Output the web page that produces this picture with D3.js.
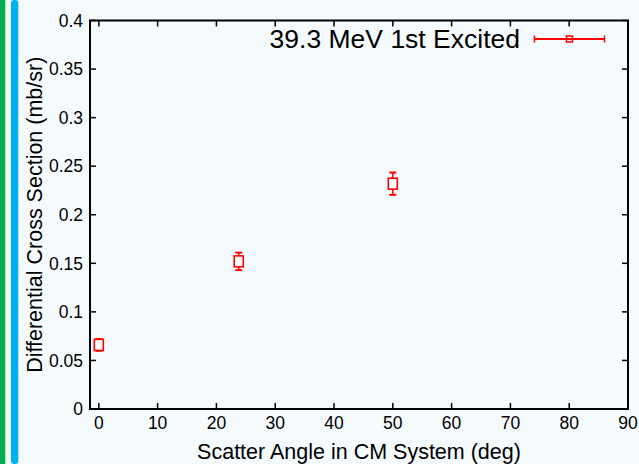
<!DOCTYPE html>
<html>
<head>
<meta charset="utf-8">
<script src="https://cdn.jsdelivr.net/npm/d3@7"></script>
<style>
  html, body { margin: 0; padding: 0; background: #f5fafd; }
  svg { display: block; font-family: "Liberation Sans", Arial, Helvetica, sans-serif; }
</style>
</head>
<body>
<svg id="chart" width="639" height="464"></svg>
<script>
// Measured differential cross sections, 39.3 MeV, first excited state
const angles = [0, 23.8, 50];           // scatter angle in CM system (deg)
const crossSections = [0.066, 0.152, 0.232]; // mb/sr
const errors = [0.006, 0.009, 0.0115];       // mb/sr

const xTicks = [0, 10, 20, 30, 40, 50, 60, 70, 80, 90];
const yTicks = [0, 0.05, 0.1, 0.15, 0.2, 0.25, 0.3, 0.35, 0.4];
const yTickLabels = ["0", "0.05", "0.1", "0.15", "0.2", "0.25", "0.3", "0.35", "0.4"];

const seriesName = "39.3 MeV 1st Excited";
const xTitle = "Scatter Angle in CM System (deg)";
const yTitle = "Differential Cross Section (mb/sr)";

const W = 639, H = 464;
const margin = { left: 90, right: 11, top: 20.5, bottom: 55 };
const svg = d3.select("#chart");

svg.append("rect").attr("width", W).attr("height", H).attr("fill", "#f5fafd");

// decorative side stripes
svg.append("rect").attr("x", 0).attr("y", 0).attr("width", 5.3).attr("height", H)
  .attr("fill", "#00b050");
svg.append("rect").attr("x", 11).attr("y", 0).attr("width", 7.3).attr("height", H)
  .attr("rx", 3).attr("fill", "#00b0f0");

const x = d3.scaleLinear().domain([-1.5, 90]).range([margin.left, W - margin.right]);
const y = d3.scaleLinear().domain([0, 0.4]).range([H - margin.bottom, margin.top]);

const x0 = x.range()[0], x1 = x.range()[1];
const y0 = y.range()[0], y1 = y.range()[1];

// tick marks pointing into the plot on all four sides
const tickLen = 6;
const ticks = svg.append("g").attr("stroke", "#000").attr("stroke-width", 1.5);
xTicks.forEach(t => {
  ticks.append("line").attr("x1", x(t)).attr("x2", x(t)).attr("y1", y0).attr("y2", y0 - tickLen);
  ticks.append("line").attr("x1", x(t)).attr("x2", x(t)).attr("y1", y1).attr("y2", y1 + tickLen);
});
yTicks.forEach(t => {
  ticks.append("line").attr("x1", x0).attr("x2", x0 + tickLen).attr("y1", y(t)).attr("y2", y(t));
  ticks.append("line").attr("x1", x1).attr("x2", x1 - tickLen).attr("y1", y(t)).attr("y2", y(t));
});

// frame
svg.append("rect").attr("x", x0).attr("y", y1).attr("width", x1 - x0).attr("height", y0 - y1)
  .attr("fill", "none").attr("stroke", "#000").attr("stroke-width", 2);

// tick labels
svg.append("g").selectAll("text").data(xTicks).join("text")
  .attr("x", d => x(d)).attr("y", y0 + 20)
  .attr("text-anchor", "middle").attr("font-size", 17.5).attr("fill", "#000")
  .text(d => d);
svg.append("g").selectAll("text").data(yTicks).join("text")
  .attr("x", x0 - 7).attr("y", d => y(d) + 6.3)
  .attr("text-anchor", "end").attr("font-size", 17.5).attr("fill", "#000")
  .text((d, i) => yTickLabels[i]);

// axis titles
svg.append("text").attr("x", (x0 + x1) / 2).attr("y", 459)
  .attr("text-anchor", "middle").attr("font-size", 21.5).attr("fill", "#000").text(xTitle);
svg.append("text").attr("transform", `translate(41.5,${(y0 + y1) / 2}) rotate(-90)`)
  .attr("text-anchor", "middle").attr("font-size", 21.5).attr("fill", "#000").text(yTitle);

// data: open squares with vertical error bars
const red = "#ff0000";
const pts = svg.append("g");
const capW = 3.5;
angles.forEach((a, i) => {
  const cx = x(a), cy = y(crossSections[i]);
  const yt = y(crossSections[i] + errors[i]), yb = y(crossSections[i] - errors[i]);
  const g = pts.append("g").attr("stroke", red).attr("fill", "none");
  g.append("line").attr("x1", cx).attr("x2", cx).attr("y1", yt).attr("y2", yb).attr("stroke-width", 1.5);
  g.append("line").attr("x1", cx - capW).attr("x2", cx + capW).attr("y1", yt).attr("y2", yt).attr("stroke-width", 2);
  g.append("line").attr("x1", cx - capW).attr("x2", cx + capW).attr("y1", yb).attr("y2", yb).attr("stroke-width", 2);
  g.append("rect").attr("x", cx - 4.5).attr("y", cy - 5.5).attr("width", 9).attr("height", 11)
    .attr("fill", "#ffffff").attr("stroke-width", 1.6);
});

// key
svg.append("text").attr("x", 520).attr("y", 48).attr("text-anchor", "end")
  .attr("font-size", 26.5).attr("fill", "#000").text(seriesName);
const key = svg.append("g").attr("stroke", red).attr("fill", "none");
const ky = 39, kx0 = 534.5, kx1 = 604.5, kc = 569.5;
key.append("line").attr("x1", kx0).attr("x2", kx1).attr("y1", ky).attr("y2", ky).attr("stroke-width", 2);
key.append("line").attr("x1", kx0).attr("x2", kx0).attr("y1", ky - 3.5).attr("y2", ky + 3.5).attr("stroke-width", 1.5);
key.append("line").attr("x1", kx1).attr("x2", kx1).attr("y1", ky - 3.5).attr("y2", ky + 3.5).attr("stroke-width", 1.5);
key.append("rect").attr("x", kc - 3).attr("y", ky - 3).attr("width", 6).attr("height", 6).attr("stroke-width", 1.5);
</script>
</body>
</html>
